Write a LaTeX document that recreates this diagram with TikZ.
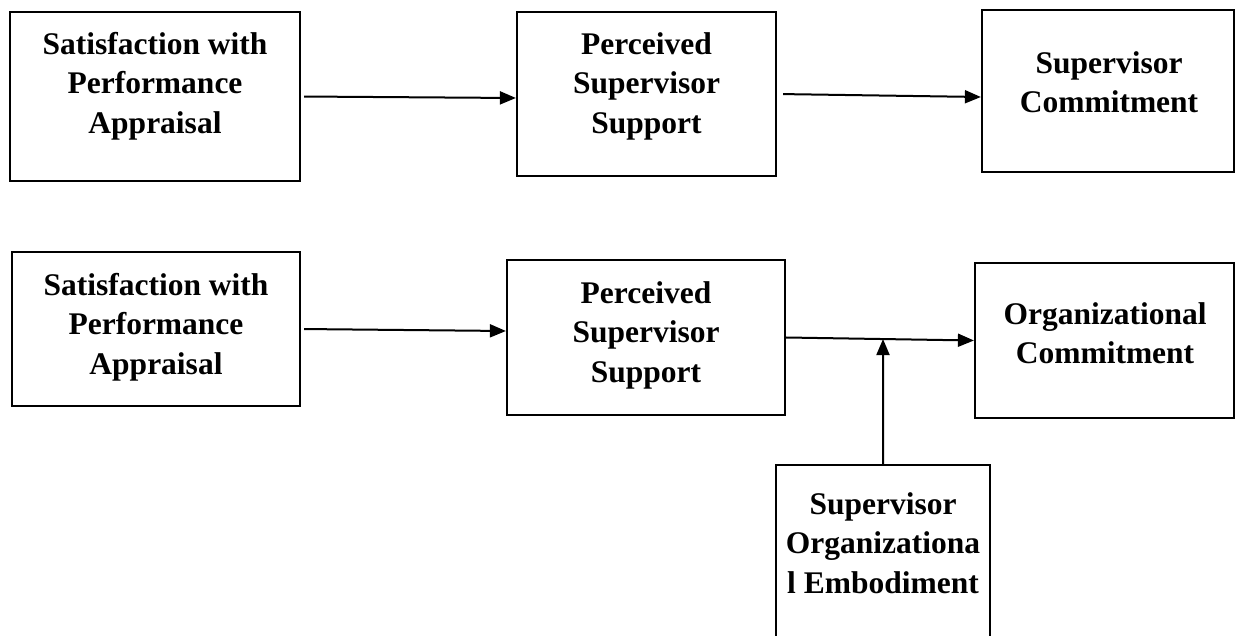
\documentclass[tikz,border=0pt]{standalone}
\usepackage{fontspec}
\setmainfont{Liberation Serif}
\usetikzlibrary{arrows.meta}

\tikzset{
  box/.style={draw,rectangle,line width=2.2pt,inner sep=0pt},
  txt/.style={font=\fontsize{31.5}{39.5}\selectfont\bfseries,align=center,inner sep=0pt},
  link/.style={->,line width=2pt}
}

\begin{document}
\begin{tikzpicture}[line join=miter,>={Triangle[length=16pt,width=13pt]},x=1pt,y=-1pt]
		\useasboundingbox (0,0) rectangle (1243,636);
		\clip (0,0) rectangle (1243,636);
		% first model
		\node[box,minimum width=290pt,minimum height=169pt] (spa1) at (155,96.5) {};
		\node[txt] (spa1t) at (155,86) {Satisfaction with\\Performance\\Appraisal};
		\node[box,minimum width=259pt,minimum height=164pt] (pss1) at (646.5,94) {};
		\node[txt] (pss1t) at (646.5,86) {Perceived\\Supervisor\\Support};
		\node[box,minimum width=252pt,minimum height=162pt] (sc) at (1108,91) {};
		\node[txt] (sct) at (1109,82) {Supervisor\\Commitment};
		\draw[link,shorten <=3pt] (spa1.east) -- ([yshift=-4pt]pss1.west);
		\draw[link,shorten <=6pt] (pss1.east) -- ([yshift=-6pt]sc.west);
		% second model
		\node[box,minimum width=288pt,minimum height=154pt] (spa2) at (156,329) {};
		\node[txt] (spa2t) at (156,327) {Satisfaction with\\Performance\\Appraisal};
		\node[box,minimum width=278pt,minimum height=155pt] (pss2) at (646,337.5) {};
		\node[txt] (pss2t) at (646,335) {Perceived\\Supervisor\\Support};
		\node[box,minimum width=259pt,minimum height=155pt] (oc) at (1104.5,340.5) {};
		\node[txt] (oct) at (1105,333) {Organizational\\Commitment};
		\node[box,minimum width=214pt,minimum height=200pt] (soe) at (883,565) {};
		\node[txt] (soet) at (883,543) {Supervisor\\Organizationa\\l Embodiment};
		\draw[link,shorten <=3pt] (spa2.east) -- ([yshift=6.5pt]pss2.west);
		\draw[link] (pss2.east) -- coordinate[pos=0.516] (mod) (oc.west);
		\draw[link] (soe.north) -- (mod);
	\end{tikzpicture}
\end{document}
